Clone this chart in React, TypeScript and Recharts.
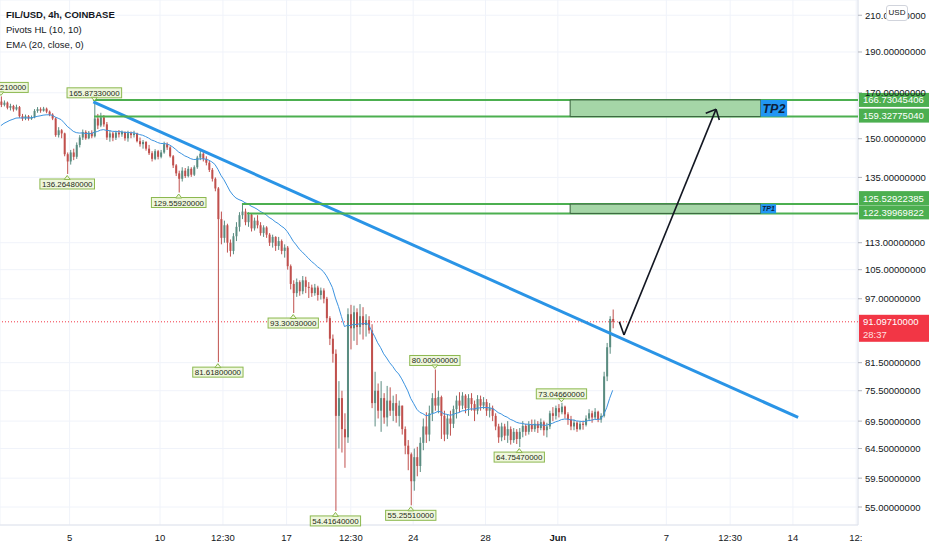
import React from "react";
import {
  ComposedChart,
  Bar,
  Line,
  XAxis,
  YAxis,
  CartesianGrid,
  ReferenceLine,
  ReferenceArea,
  ReferenceDot,
} from "recharts";

// time axis: days after May 1 00:00, one candle every 4 hours
const firstCandleDay = 0.2;
const candleStep = 1 / 6;
const firstOpen = 166.0;

const closes = [
  164.5, 165.5, 163.2, 164.0, 162.5, 163.5, 159.5, 158.5, 159.5, 158.4,
  159.0, 161.8, 162.6, 161.9, 162.8, 161.5, 160.2, 158.5, 151.5, 153.5,
  152.2, 143.8, 141.0, 144.5, 142.8, 147.5, 150.5, 152.8, 150.2, 152.5,
  151.0, 158.5, 155.5, 159.0, 156.0, 150.5, 152.2, 150.4, 152.5, 151.8,
  152.8, 150.2, 152.3, 151.5, 152.2, 149.0, 147.8, 148.7, 146.0, 144.2,
  142.0, 145.0, 142.8, 144.5, 147.8, 146.5, 143.0, 139.5, 136.5, 134.5,
  137.5, 135.5, 138.2, 136.0, 138.8, 142.5, 144.0, 142.0, 140.5, 137.8,
  134.5, 131.0, 120.5, 114.5, 118.5, 113.0, 110.5, 115.0, 118.0, 121.8,
  123.0, 119.5, 122.0, 117.5, 120.0, 118.5, 116.0, 117.8, 115.5, 113.0,
  114.8, 112.0, 113.5, 110.5, 111.5, 106.0, 101.0, 98.5, 101.5, 99.0,
  102.0, 100.2, 100.0, 98.5, 100.0, 98.0, 99.2, 97.0, 92.0, 87.0,
  83.5, 70.5, 74.0, 68.0, 66.5, 93.0, 89.5, 93.5, 89.8, 92.5,
  90.3, 91.5, 89.0, 73.0, 75.5, 71.5, 74.0, 70.2, 73.5, 71.5,
  73.0, 70.5, 72.5, 68.0, 65.0, 63.5, 59.0, 63.0, 61.5, 65.5,
  68.5, 67.0, 71.0, 74.0, 72.5, 74.2, 70.5, 67.0, 70.0, 69.0,
  71.8, 73.5, 72.5, 74.5, 72.0, 74.0, 72.8, 71.5, 73.8, 72.5,
  73.2, 71.5, 72.0, 70.5, 68.5, 66.5, 68.5, 66.8, 68.0, 66.0,
  67.5, 66.2, 67.5, 68.6, 67.5, 68.8, 68.0, 69.0, 68.2, 69.3,
  67.8, 68.5, 71.0, 70.5, 72.0, 71.2, 72.3, 70.8, 69.8, 68.5,
  69.2, 68.0, 69.0, 68.8, 70.0, 71.0, 70.2, 71.3, 69.8, 70.5,
  78.5, 85.0, 91.8, 91.0971,
];

const highs = [
  168.3321, 166.5, 166.0, 165.0, 164.5, 164.6, 164.0, 160.5, 160.2, 160.0,
  159.8, 162.6, 163.5, 163.4, 163.6, 163.3, 162.0, 160.8, 159.0, 154.8,
  154.0, 152.5, 144.5, 145.5, 146.0, 148.5, 151.5, 153.8, 153.5, 153.2,
  153.5, 165.8733, 160.5, 161.0, 160.0, 157.0, 153.5, 152.8, 153.3, 153.6,
  153.4, 153.0, 153.3, 153.0, 153.3, 152.5, 150.5, 149.5, 149.0, 147.5,
  145.0, 145.8, 145.5, 145.5, 148.8, 148.5, 147.0, 143.5, 140.0, 137.5,
  138.8, 138.5, 139.2, 138.8, 139.5, 143.2, 145.5, 145.0, 143.0, 141.2,
  138.5, 135.0, 131.5, 123.0, 120.0, 119.0, 114.0, 116.0, 119.5, 122.8,
  125.5292, 124.0, 122.8, 122.4, 121.0, 121.8, 119.5, 118.5, 118.2, 116.0,
  115.5, 115.0, 114.8, 114.0, 112.5, 112.0, 106.5, 102.0, 102.5, 102.0,
  103.2, 103.0, 101.5, 100.8, 101.0, 100.5, 100.0, 99.8, 97.5, 92.5,
  88.0, 84.5, 77.5, 75.5, 71.0, 94.5, 95.4, 95.2, 94.5, 95.6,
  94.8, 93.0, 92.5, 90.5, 79.5, 77.0, 77.5, 75.0, 76.5, 76.2,
  74.5, 74.8, 73.5, 72.5, 68.5, 66.0, 63.8, 64.5, 64.8, 66.5,
  70.0, 71.2, 72.5, 75.0, 80.0, 75.5, 74.5, 71.5, 70.8, 71.5,
  72.5, 74.5, 75.2, 75.2, 74.8, 74.8, 75.0, 73.5, 74.6, 74.5,
  74.2, 73.8, 73.0, 72.5, 71.0, 69.0, 69.2, 69.0, 69.5, 68.5,
  68.2, 68.0, 68.2, 69.5, 69.0, 69.5, 69.8, 69.8, 69.5, 70.0,
  69.6, 69.2, 71.5, 72.2, 72.5, 72.8, 73.0466, 72.5, 71.2, 70.5,
  69.8, 69.5, 69.5, 69.6, 70.6, 71.8, 71.5, 72.0, 71.5, 71.0,
  79.5, 86.0, 92.5, 94.2,
];

const lows = [
  163.5, 163.8, 162.5, 162.0, 161.5, 162.0, 158.8, 157.5, 157.8, 157.6,
  157.9, 158.6, 161.0, 161.0, 161.5, 160.8, 159.5, 157.8, 150.8, 150.5,
  150.2, 143.0, 136.2648, 139.8, 141.5, 142.0, 146.5, 149.5, 149.6, 149.8,
  150.2, 150.5, 154.0, 154.8, 155.0, 149.5, 148.8, 149.0, 149.5, 150.5,
  150.8, 149.2, 148.8, 150.2, 150.5, 148.5, 146.8, 146.0, 145.2, 143.5,
  141.0, 141.5, 141.8, 142.2, 144.0, 145.5, 142.5, 138.5, 135.5, 129.5592,
  133.5, 134.8, 135.0, 135.2, 135.5, 138.2, 141.5, 141.0, 139.5, 137.0,
  133.5, 130.0, 81.618, 112.5, 113.0, 110.0, 108.8, 109.5, 113.5, 116.5,
  120.5, 118.5, 118.0, 116.5, 116.8, 117.5, 115.2, 114.8, 114.5, 112.0,
  111.5, 110.5, 110.8, 109.5, 108.5, 105.0, 99.5, 93.3003, 97.5, 97.8,
  98.2, 98.5, 97.2, 97.5, 97.8, 96.5, 96.8, 95.8, 91.0, 85.5,
  81.5, 54.4164, 64.5, 63.8, 61.2, 65.5, 84.5, 86.5, 85.5, 88.0,
  86.8, 87.5, 88.2, 72.0, 68.5, 70.0, 67.5, 69.0, 68.5, 70.5,
  69.5, 69.2, 68.5, 67.0, 63.5, 60.8, 55.2551, 57.5, 59.8, 60.5,
  64.2, 65.5, 65.8, 69.5, 71.5, 71.0, 66.2, 65.8, 66.2, 66.8,
  68.2, 70.0, 71.2, 71.8, 71.0, 70.5, 71.5, 69.5, 70.8, 71.5,
  71.8, 70.5, 70.2, 69.5, 67.8, 65.5, 65.8, 66.0, 65.5, 65.2,
  65.5, 65.3, 64.7547, 66.5, 66.8, 67.0, 67.5, 67.5, 67.3, 67.8,
  66.8, 66.5, 68.0, 69.5, 69.8, 70.2, 70.8, 70.0, 68.8, 67.8,
  67.8, 67.5, 67.8, 67.9, 68.5, 69.5, 69.2, 69.8, 69.3, 69.2,
  70.2, 77.5, 83.5, 89.5,
];

// EMA (20, close) carries on from the bars before the visible window
const emaLength = 20;
const emaStart = 154.5;

// pivots HL (10, 10)
const pivotBars = [0, 31, 144, 186, 22, 59, 72, 97, 111, 136, 172];
const pivotIsHigh = [true, true, true, true, false, false, false, false, false, false, false];

// 89 and 125 sit under the price tags in the reference, so they are left out
const priceTicks = [55, 59.5, 64.5, 69.5, 75.5, 81.5, 97, 105, 113, 135, 150, 170, 190, 210];
const timeTicks = [4, 9, 12.48, 16, 19.55, 23, 27, 31, 37, 40.53, 44, 47.5];
const timeLabels = ["5", "10", "12:30", "17", "12:30", "24", "28", "Jun", "7", "12:30", "14", "12:30"];

// drawings
const levelPrices = [166.73045406, 159.3277504, 125.52922385, 122.39969822];
const levelStart = [5.29, 5.35, 13.53, 13.81];
const trendDays = [5.31, 44.29];
const trendPrices = [165.8733, 70.2];
const arrowDays = [34.4, 34.66, 39.75, 39.18, 39.93];
const arrowPrices = [91.1, 87.9, 162.6, 160.8, 157.9];
const zoneDays = [31.68, 42.22];
const tp2LabelEnd = 43.68;
const tp1LabelEnd = 43.07;
const lastPrice = 91.0971;
const countdown = "28:37";

const xDomain: [number, number] = [0.15, 47.6];
const yDomain: [number, number] = [52.37, 218.9];

const UP = "#5a8c80";
const DOWN = "#c0504d";
const FONT = "'Liberation Sans', Arial, sans-serif";
// the two TP1 price tags are pushed apart on the axis so they don't overlap
const tagNudge = [0, -1, -6, -1];

const alpha = 2 / (emaLength + 1);
let emaPrev = emaStart;
const rows = closes.map((c, i) => {
  const o = i === 0 ? firstOpen : closes[i - 1];
  emaPrev = emaPrev + alpha * (c - emaPrev);
  return {
    day: firstCandleDay + i * candleStep,
    o,
    h: highs[i],
    l: lows[i],
    c,
    range: [lows[i], highs[i]],
    ema: emaPrev,
  };
});

function Candle(props: any) {
  const { x, y, width, height, payload } = props;
  if (!payload || height == null) return null;
  const { o, h, l, c } = payload;
  const cx = x + width / 2;
  const span = Math.log(h) - Math.log(l);
  const at = (v: number) => y + (span === 0 ? 0 : (height * (Math.log(h) - Math.log(v))) / span);
  const top = at(Math.max(o, c));
  const bottom = at(Math.min(o, c));
  const color = c >= o ? UP : DOWN;
  return (
    <g>
      <line x1={cx} x2={cx} y1={y} y2={y + height} stroke={color} strokeWidth={1} />
      <rect x={cx - 1} y={top} width={2} height={Math.max(1, bottom - top)} fill={color} />
    </g>
  );
}

const pivotTag = (text: string, high: boolean) => (p: any) => {
  const { cx, cy } = p;
  const w = text.length * 4.3 + 3;
  const h = 10;
  const boxY = high ? cy - 4 - h : cy + 5;
  const tri = high
    ? `${cx - 3},${cy - 4.5} ${cx + 3},${cy - 4.5} ${cx},${cy - 1}`
    : `${cx - 3},${cy + 5.5} ${cx + 3},${cy + 5.5} ${cx},${cy + 1.5}`;
  return (
    <g>
      <rect x={cx - w / 2} y={boxY} width={w} height={h} fill="#eff7dd" stroke="#8cb84f" strokeWidth={1} />
      <polygon points={tri} fill="#eff7dd" stroke="#8cb84f" strokeWidth={1} />
      <text
        x={cx}
        y={boxY + 8}
        textAnchor="middle"
        fontSize={8}
        fill="#1e2a16"
        fontFamily={FONT}
        textLength={w - 4}
        lengthAdjust="spacingAndGlyphs"
      >
        {text}
      </text>
    </g>
  );
};

const axisTag = (text: string, color: string, nudge = 0, sub?: string) => (p: any) => {
  const { cx } = p;
  const cy = p.cy + nudge;
  return (
    <g>
      <rect x={cx + 1} y={cy - 7} width={70} height={sub ? 27 : 14} fill={color} />
      <text x={cx + 5} y={cy + 3.5} fontSize={9.5} fill="#ffffff" fontFamily={FONT}>
        {text}
      </text>
      {sub && (
        <text x={cx + 5} y={cy + 16} fontSize={9.5} fill="#ffe0e0" fontFamily={FONT}>
          {sub}
        </text>
      )}
    </g>
  );
};

function PriceTick(props: any) {
  const { x, y, payload } = props;
  return (
    <text x={x} y={y + 3.5} fontSize={9.5} fill="#131722" fontFamily={FONT}>
      {Number(payload.value).toFixed(8)}
    </text>
  );
}

function TimeTick(props: any) {
  const { x, y, payload } = props;
  const idx = timeTicks.indexOf(payload.value);
  const label = timeLabels[idx] ?? "";
  const last = idx === timeTicks.length - 1;
  return (
    <text
      x={last ? x - 7 : x}
      y={y + 16}
      textAnchor={last ? "start" : "middle"}
      fontSize={9.5}
      fontWeight={label === "Jun" ? 700 : 400}
      fill="#131722"
      fontFamily={FONT}
    >
      {last ? "12:" : label}
    </text>
  );
}

export default function App() {
  return (
    <div style={{ position: "relative", width: 932, height: 550, background: "#ffffff", overflow: "hidden" }}>
      <style>{"body{margin:0;}"}</style>
      <ComposedChart width={932} height={550} data={rows} margin={{ top: 0, right: 0, bottom: 0, left: 0 }}>
        <CartesianGrid stroke="#f0f3fa" />
        <XAxis
          dataKey="day"
          type="number"
          domain={xDomain}
          allowDataOverflow
          ticks={timeTicks}
          interval={0}
          height={25}
          tickSize={0}
          tickMargin={0}
          tick={<TimeTick />}
          axisLine={{ stroke: "#e0e3eb" }}
          tickLine={false}
          zIndex={0}
        />
        <YAxis
          orientation="right"
          scale="log"
          domain={yDomain}
          allowDataOverflow
          ticks={priceTicks}
          interval={0}
          width={74}
          tickSize={4}
          tickMargin={3}
          tick={<PriceTick />}
          axisLine={{ stroke: "#e0e3eb" }}
          tickLine={{ stroke: "#b2b5be" }}
          zIndex={0}
        />
        <Bar dataKey="range" barSize={2} shape={<Candle />} isAnimationActive={false} />
        <Line dataKey="ema" type="linear" stroke="#3d94e0" strokeWidth={1} dot={false} activeDot={false} isAnimationActive={false} />

        <ReferenceLine y={lastPrice} stroke="#f23645" strokeWidth={1} strokeDasharray="1 2" />

        <ReferenceLine
          segment={[
            { x: trendDays[0], y: trendPrices[0] },
            { x: trendDays[1], y: trendPrices[1] },
          ]}
          stroke="#2a94e6"
          strokeWidth={3}
          ifOverflow="visible"
        />

        {levelPrices.map((p, i) => (
          <ReferenceLine
            key={`lv${i}`}
            segment={[
              { x: levelStart[i], y: p },
              { x: xDomain[1], y: p },
            ]}
            stroke="#4caf50"
            strokeWidth={2}
            ifOverflow="visible"
          />
        ))}

        <ReferenceArea
          x1={zoneDays[0]}
          x2={zoneDays[1]}
          y1={levelPrices[1]}
          y2={levelPrices[0]}
          fill="#a5d6a7"
          fillOpacity={1}
          stroke="#35603a"
          strokeWidth={1}
          ifOverflow="visible"
          zIndex={450}
        />
        <ReferenceArea
          x1={zoneDays[1]}
          x2={tp2LabelEnd}
          y1={levelPrices[1]}
          y2={levelPrices[0]}
          fill="#2196f3"
          fillOpacity={1}
          ifOverflow="visible"
          zIndex={450}
          label={{ value: "TP2", position: "center", fill: "#0d1f3c", fontSize: 12.5, fontWeight: 700, fontStyle: "italic", fontFamily: FONT }}
        />
        <ReferenceArea
          x1={zoneDays[0]}
          x2={zoneDays[1]}
          y1={levelPrices[3]}
          y2={levelPrices[2]}
          fill="#a5d6a7"
          fillOpacity={1}
          stroke="#35603a"
          strokeWidth={1}
          ifOverflow="visible"
          zIndex={450}
        />
        <ReferenceArea
          x1={zoneDays[1]}
          x2={tp1LabelEnd}
          y1={levelPrices[3]}
          y2={levelPrices[2]}
          fill="#2196f3"
          fillOpacity={1}
          ifOverflow="visible"
          zIndex={450}
          label={{ value: "TP1", position: "center", fill: "#0d1f3c", fontSize: 7, fontWeight: 700, fontStyle: "italic", fontFamily: FONT }}
        />

        {[
          [0, 1],
          [1, 2],
          [2, 3],
          [2, 4],
        ].map(([a, b], i) => (
          <ReferenceLine
            key={`ar${i}`}
            segment={[
              { x: arrowDays[a], y: arrowPrices[a] },
              { x: arrowDays[b], y: arrowPrices[b] },
            ]}
            stroke="#131722"
            strokeWidth={1.6}
            ifOverflow="visible"
            zIndex={520}
          />
        ))}

        {pivotBars.map((b, i) => {
          const price = pivotIsHigh[i] ? highs[b] : lows[b];
          return (
            <ReferenceDot
              key={`pv${i}`}
              x={firstCandleDay + b * candleStep}
              y={price}
              ifOverflow="visible"
              zIndex={600}
              shape={pivotTag(price.toFixed(8), pivotIsHigh[i])}
            />
          );
        })}

        {levelPrices.map((p, i) => (
          <ReferenceDot
            key={`tag${i}`}
            x={xDomain[1]}
            y={p}
            ifOverflow="visible"
            zIndex={700}
            shape={axisTag(p.toFixed(8), "#4caf50", tagNudge[i])}
          />
        ))}
        <ReferenceDot
          x={xDomain[1]}
          y={lastPrice}
          ifOverflow="visible"
          zIndex={700}
          shape={axisTag(lastPrice.toFixed(8), "#f23645", 0, countdown)}
        />
      </ComposedChart>

      <div
        style={{
          position: "absolute",
          left: 6,
          top: 7,
          fontFamily: FONT,
          fontSize: 9.5,
          lineHeight: "15px",
          color: "#131722",
        }}
      >
        <div style={{ fontWeight: 700 }}>FIL/USD, 4h, COINBASE</div>
        <div>Pivots HL (10, 10)</div>
        <div>EMA (20, close, 0)</div>
      </div>

      <div
        style={{
          position: "absolute",
          left: 886,
          top: 5,
          width: 20,
          height: 14,
          border: "1px solid #d1d4dc",
          borderRadius: 3,
          background: "#ffffff",
          fontFamily: FONT,
          fontSize: 8,
          lineHeight: "14px",
          textAlign: "center",
          color: "#131722",
        }}
      >
        USD
      </div>
    </div>
  );
}
